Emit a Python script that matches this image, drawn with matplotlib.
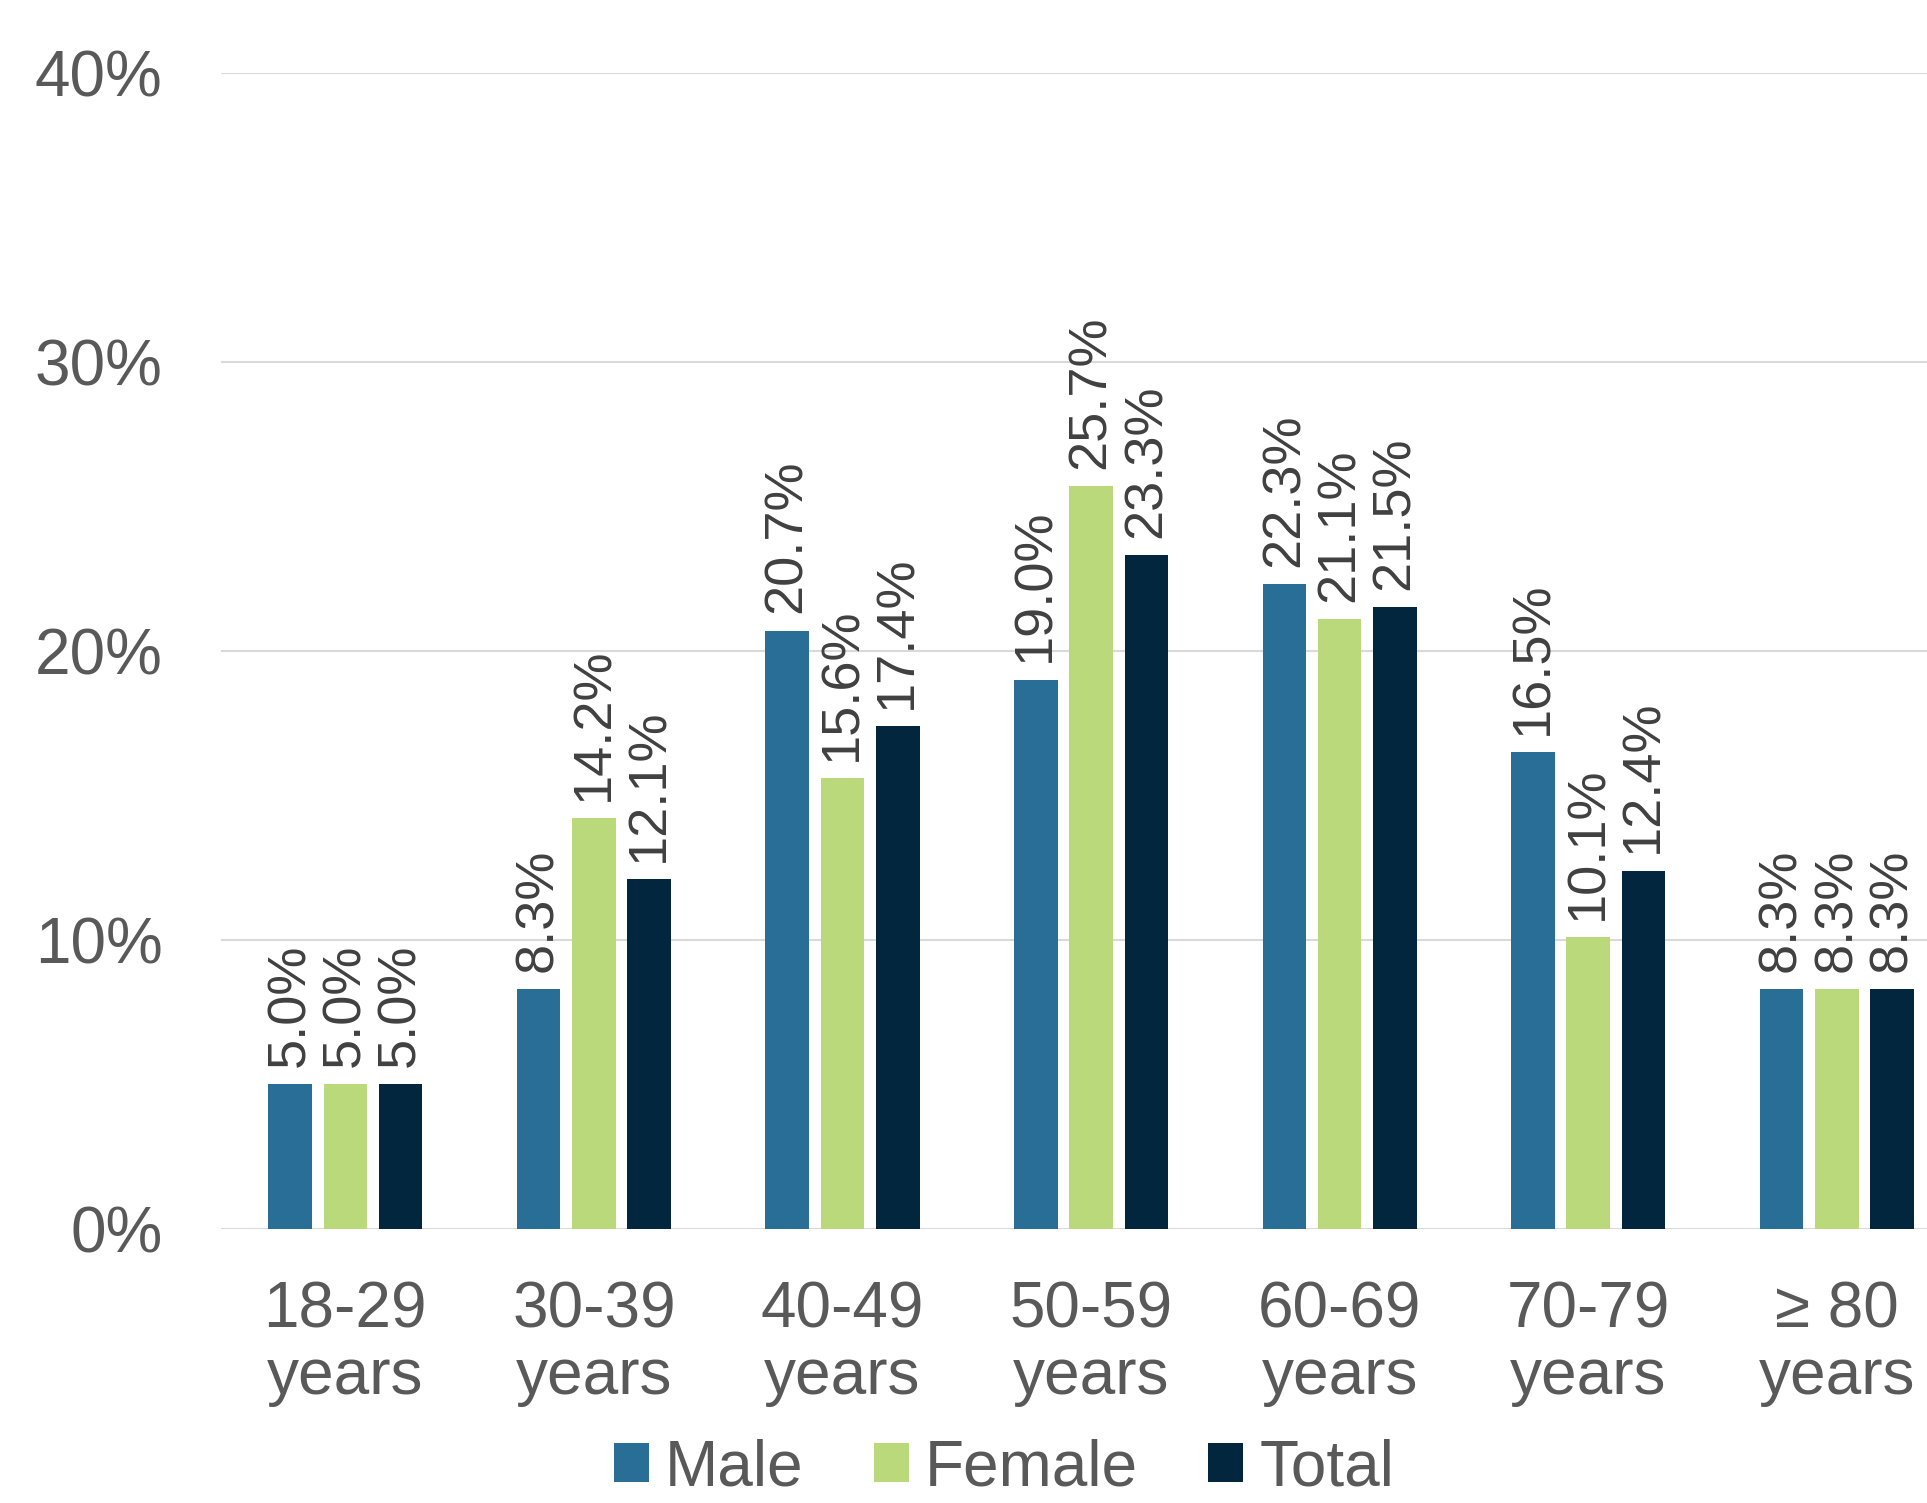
import numpy as np
import matplotlib.pyplot as plt

plt.rcParams['font.family'] = ['Liberation Sans', 'DejaVu Sans']

# age groups and share of patients per group
age_groups = ['18-29\nyears', '30-39\nyears', '40-49\nyears', '50-59\nyears',
              '60-69\nyears', '70-79\nyears', '\u2265 80\nyears']
male = [5.0, 8.3, 20.7, 19.0, 22.3, 16.5, 8.3]
female = [5.0, 14.2, 15.6, 25.7, 21.1, 10.1, 8.3]
total = [5.0, 12.1, 17.4, 23.3, 21.5, 12.4, 8.3]

series = [('Male', male, '#286E96'),
          ('Female', female, '#B9D97A'),
          ('Total', total, '#02263D')]

fig = plt.figure(figsize=(19.27, 15.03), dpi=100)
ax = fig.add_axes([0.1147, 0.1823, 0.903, 0.7694])

x = np.arange(len(age_groups))
width = 0.175
pitch = 0.2225

for i, (name, vals, color) in enumerate(series):
    pos = x + (i - 1) * pitch
    ax.bar(pos, vals, width, color=color, label=name, zorder=3)
    for p, v in zip(pos, vals):
        ax.text(p, v + 0.6, f'{v:.1f}%', rotation=90, ha='center', va='bottom',
                fontsize=39, color='#404040')

ax.set_xlim(-0.5, len(age_groups) - 0.5)
ax.set_ylim(0, 40)
ax.set_yticks([0, 10, 20, 30, 40])
ax.set_yticklabels([f'{t}%' for t in [0, 10, 20, 30, 40]])
ax.set_xticks(x)
ax.set_xticklabels(age_groups, linespacing=1.15)
ax.tick_params(axis='y', length=0, pad=42, labelsize=46, labelcolor='#595959')
ax.tick_params(axis='x', length=0, pad=37, labelsize=46, labelcolor='#595959')
ax.grid(axis='y', color='#D9D9D9', linewidth=1.5, zorder=0)
for s in ax.spines.values():
    s.set_visible(False)

fig.legend(loc='lower center', bbox_to_anchor=(0.521, -0.035), ncol=3, frameon=False,
           fontsize=46, labelcolor='#595959', handlelength=0.55, handleheight=0.55,
           handletextpad=0.25, columnspacing=1.1)

fig.savefig('out.png', dpi=100)
